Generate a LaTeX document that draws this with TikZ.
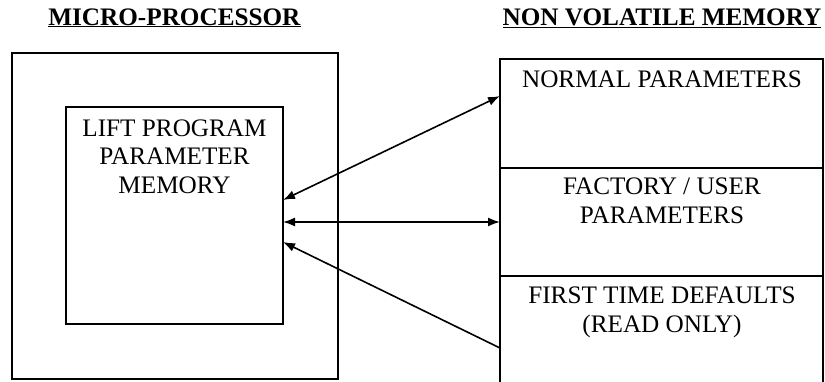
\documentclass[tikz,border=0pt]{standalone}
\usepackage{fontspec}
\setmainfont{Liberation Serif}
\usetikzlibrary{arrows.meta}

\tikzset{
  box/.style={draw,line width=1.7pt,inner sep=0pt},
  txt/.style={anchor=base,align=center,inner sep=0pt,font=\fontsize{25.2}{28.5}\selectfont},
  link/.style={line width=1.6pt,>={Latex[length=12pt,width=9pt]}}
}

\begin{document}
\begin{tikzpicture}[x=1pt,y=1pt,yscale=-1,xscale=1]
\useasboundingbox (0,0) rectangle (825,381);

%Shape: Rectangle [micro]
\node[box,minimum width=326pt,minimum height=326pt] (micro) at (175,216) {};
%Shape: Rectangle [lift]
\node[box,minimum width=217pt,minimum height=217pt] (lift) at (174.5,215.5) {};
%Shape: Open column [nvm]
\draw[line width=1.7pt] (500,383) -- (500,59) -- (823,59) -- (823,383) ;
\draw[line width=1.7pt] (500,168) -- (823,168) ;
\draw[line width=1.7pt] (500,276) -- (823,276) ;

% Text Node (base = last line)
\node[txt] (ttlmicro) at (174.5,25) {\underline{\textbf{MICRO-PROCESSOR}}};
% Text Node
\node[txt] (ttlnvm) at (662,25) {\underline{\textbf{NON VOLATILE MEMORY}}};
% Text Node
\node[txt] (lifttxt) at (174.5,193) {LIFT PROGRAM\\PARAMETER\\MEMORY};
% Text Node
\node[txt] (normal) at (662,87) {NORMAL PARAMETERS};
% Text Node
\node[txt] (factory) at (662,223) {FACTORY / USER\\PARAMETERS};
% Text Node
\node[txt] (firsttime) at (662,332) {FIRST TIME DEFAULTS\\(READ ONLY)};

% Arrow ends
\coordinate (l1) at (283,200);
\coordinate (l2) at (283,222);
\coordinate (l3) at (283,242);
\coordinate (m1) at (500,96);
\coordinate (m2) at (500,222);
\coordinate (m3) at (500,348);

%Straight Lines
\draw[link,<->] (l1) -- (m1) ;
\draw[link,<->] (l2) -- (m2) ;
\draw[link,->] (m3) -- (l3) ;

\end{tikzpicture}
\end{document}
